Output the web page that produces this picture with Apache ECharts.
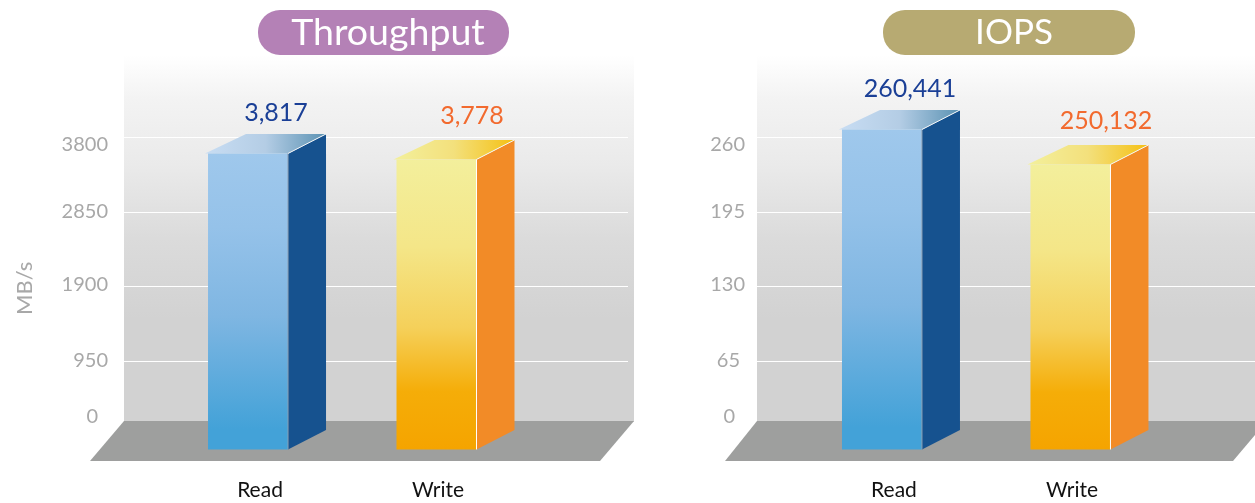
<!DOCTYPE html>
<html><head><meta charset="utf-8">
<style>html,body{margin:0;padding:0;background:#fff}#c{width:1255px;height:503px}</style>
<script src="https://cdn.jsdelivr.net/npm/echarts@6/dist/echarts.min.js"></script>
</head><body><div id="c"></div>
<script>
const categories = ['Read', 'Write'];
const titles = ['Throughput', 'IOPS'];
const throughputLabels = ['3,817', '3,778'];
const iopsLabels = ['260,441', '250,132'];
// Drawn height of each bar, read against the chart's own axis
const throughputHeights = [3845, 3769];
const iopsHeights = [284, 253.5];
const throughputTicks = [0, 950, 1900, 2850, 3800];
const iopsTicks = [0, 65, 130, 195, 260];

const FONT = 'Lato, "Open Sans", sans-serif';
const chart = echarts.init(document.getElementById('c'), null, {renderer: 'canvas'});
const G = echarts.graphic;
const grad = (x, y, stops) => new G.LinearGradient(0, 0, x, y, stops.map(s => ({offset: s[0], color: s[1]})));

const styles = [
  {
    front: () => grad(0, 1, [[0, '#9fc8ec'], [0.25, '#95c2e9'], [0.55, '#7fb6e2'], [0.93, '#43a2d8'], [1, '#43a2d8']]),
    side: '#16528f',
    top: () => grad(1, 0, [[0, '#c8ddf3'], [0.5, '#b4cde5'], [1, '#5b92b3']]),
    edge: '#8c9db0', label: '#1a3f96', lx: 28, ly: -21
  },
  {
    front: () => grad(0, 1, [[0, '#f3ef9c'], [0.3, '#f4e688'], [0.58, '#f5d05a'], [0.8, '#f5ad08'], [1, '#f5a400']]),
    side: '#f28b27',
    top: () => grad(1, 0, [[0, '#f3f09c'], [0.5, '#f3e07c'], [1, '#f5c013']]),
    edge: '#ffffff', label: '#f26a2e', lx: 35.5, ly: -24
  }
];

function renderBar(params, api) {
  const i = api.value(0);
  const s = styles[i];
  const p = api.coord([i, api.value(1)]);
  const p0 = api.coord([i, 0]);
  const W = 40, DX = 38, DY = 19.5;
  const l = p[0] - W, r = p[0] + W;
  const backTop = p[1], frontTop = backTop + DY, frontBottom = p0[1] + 14;
  const labels = params.seriesIndex === 0 ? throughputLabels : iopsLabels;
  return {
    type: 'group',
    children: [
      {type: 'polygon', shape: {points: [[r, frontTop], [r + DX, backTop], [r + DX, frontBottom - DY], [r, frontBottom]]},
        style: {fill: s.side}},
      {type: 'polygon', shape: {points: [[l - 3, frontTop], [l + 38, backTop], [r + DX, backTop], [r, frontTop]]},
        style: {fill: s.top()}},
      {type: 'rect', shape: {x: l, y: frontTop, width: W * 2, height: frontBottom - frontTop},
        style: {fill: s.front()}},
      {type: 'line', shape: {x1: r, y1: frontTop, x2: r, y2: frontBottom},
        style: {stroke: s.edge, lineWidth: 1}},
      {type: 'line', shape: {x1: r, y1: frontTop, x2: r + DX, y2: backTop},
        style: {stroke: '#f4f6f8', lineWidth: 1}},
      {type: 'text', style: {text: labels[i], x: p[0] + s.lx, y: backTop + s.ly, fill: s.label,
        font: '25px ' + FONT, align: 'center', verticalAlign: 'middle'}}
    ]
  };
}

function yLabels(ticks, pads) {
  const rich = {};
  ticks.forEach((t, k) => {
    rich['t' + k] = {fontFamily: FONT, fontSize: 20, color: '#a8a8a8', padding: pads[k]};
  });
  return {
    margin: pads.margin, align: 'right',
    formatter: v => { const k = ticks.indexOf(v); return k < 0 ? '' : '{t' + k + '|' + v + '}'; },
    rich
  };
}
const leftPads = [[0, 10, 37, 0], [0, 0, 0, 0], [0, 0, 4, 0], [0, 0, 0, 0], [14, 0, 0, 0]];
leftPads.margin = 16;
const rightPads = [[0, 10, 37, 0], [0, 5, 0, 0], [0, 0, 4, 0], [0, 0, 0, 0], [14, 0, 0, 0]];
rightPads.margin = 12;

const bgStops = [[0, '#ffffff'], [0.12, '#f3f3f3'], [0.3, '#eaeaea'], [0.5, '#dbdbdb'], [0.72, '#d2d2d2'], [1, '#d2d2d2']];
function panelGraphics(pillX, pillW, pillColor, bgX, bgW, floor) {
  return [
    {type: 'rect', z: -5, shape: {x: pillX, y: 10, width: pillW, height: 45, r: 22}, style: {fill: pillColor}},
    {type: 'rect', z: -6, shape: {x: bgX, y: 55, width: bgW, height: 367}, style: {fill: grad(0, 1, bgStops)}},
    {type: 'polygon', z: 1, shape: {points: floor}, style: {fill: '#9e9f9e'}}
  ];
}

const xAxisBase = {
  type: 'value', axisLine: {show: false}, axisTick: {show: false}, splitLine: {show: false},
  axisLabel: {
    customValues: [0, 1], margin: 44, hideOverlap: false,
    formatter: v => '{c' + v + '|' + categories[v] + '}',
    rich: {
      c0: {fontFamily: FONT, fontSize: 21, color: '#111', padding: [0, 0, 0, 24]},
      c1: {fontFamily: FONT, fontSize: 21, color: '#111', padding: [0, 0, 0, 3]}
    }
  }
};
const splitLine = {show: true, showMinLine: false, showMaxLine: false, lineStyle: {color: '#ffffff', width: 1}};

chart.setOption({
  animation: false,
  backgroundColor: '#fff',
  title: [
    {text: titles[0], left: 383, top: 28, textAlign: 'center', textVerticalAlign: 'middle',
      textStyle: {fontFamily: FONT, fontSize: 37.5, fontWeight: 'normal', color: '#fff'}},
    {text: titles[1], left: 1009, top: 28, textAlign: 'center', textVerticalAlign: 'middle',
      textStyle: {fontFamily: FONT, fontSize: 35, fontWeight: 'normal', color: '#fff'}}
  ],
  graphic: {elements: [
    ...panelGraphics(258, 251, '#b481b6', 124, 510, [[124, 421], [634, 421], [600, 461], [90, 461]]),
    ...panelGraphics(883, 252, '#b7aa72', 757, 498, [[757, 421], [1267, 421], [1233, 461], [725, 461]])
  ]},
  grid: [
    {left: 124, width: 504, top: 63, height: 372.5},
    {left: 757, width: 498, top: 63, height: 372.5}
  ],
  xAxis: [
    {...xAxisBase, gridIndex: 0, min: -0.658, max: 2.016},
    {...xAxisBase, gridIndex: 1, min: -0.663, max: 1.979}
  ],
  yAxis: [
    {type: 'value', gridIndex: 0, min: 0, max: 4750, interval: 950, axisLine: {show: false}, axisTick: {show: false},
      splitLine, axisLabel: yLabels(throughputTicks, leftPads),
      name: 'MB/s', nameLocation: 'middle', nameGap: 88, nameRotate: 90,
      nameTextStyle: {fontFamily: FONT, fontSize: 22, color: '#a8a8a8', padding: [0, 78, 0, 0]}},
    {type: 'value', gridIndex: 1, min: 0, max: 325, interval: 65, axisLine: {show: false}, axisTick: {show: false},
      splitLine, axisLabel: yLabels(iopsTicks, rightPads)}
  ],
  series: [
    {type: 'custom', xAxisIndex: 0, yAxisIndex: 0, z: 3, clip: false, renderItem: renderBar,
      encode: {x: 0, y: 1}, data: throughputHeights.map((h, i) => [i, h])},
    {type: 'custom', xAxisIndex: 1, yAxisIndex: 1, z: 3, clip: false, renderItem: renderBar,
      encode: {x: 0, y: 1}, data: iopsHeights.map((h, i) => [i, h])}
  ]
});
</script></body></html>
